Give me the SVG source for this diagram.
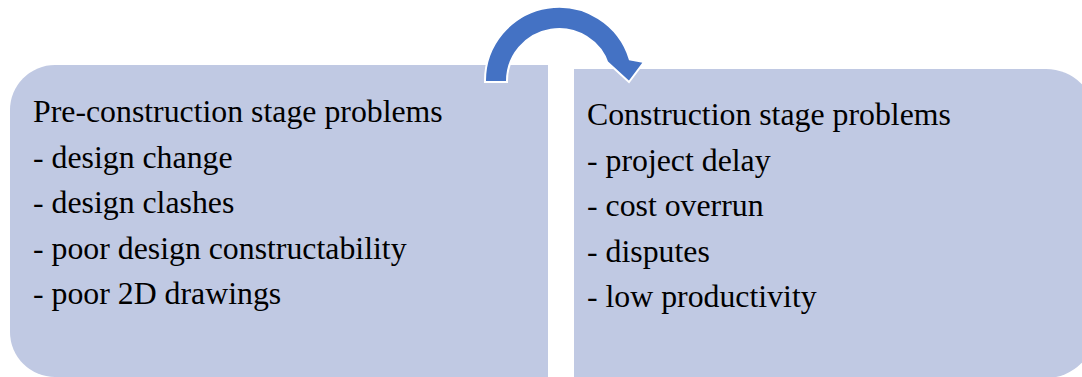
<svg xmlns="http://www.w3.org/2000/svg" width="1082" height="377" viewBox="0 0 1082 377">
<style>
.box{fill:#C0C9E3;}
.t{font-family:"Liberation Serif","Times New Roman",serif;font-size:31.8px;fill:#000;}
.arrow{fill:#4472C4;stroke:#FFFFFF;stroke-width:2;stroke-linejoin:miter;}
</style>
<rect width="1082" height="377" fill="#FFFFFF"/>
<g id="node-pre">
<path class="box" d="M548,65 L548,377 L55,377 A45,45 0 0 1 10,332 L10,110 A45,45 0 0 1 55,65 Z"/>
<text class="t" x="33" y="122">Pre-construction stage problems</text>
<text class="t" x="33" y="167.5">- design change</text>
<text class="t" x="33" y="213">- design clashes</text>
<text class="t" x="33" y="258.5">- poor design constructability</text>
<text class="t" x="33" y="304">- poor 2D drawings</text>
</g>
<g id="node-con">
<path class="box" d="M574,69 L1046,69 A50,50 0 0 1 1096,119 L1096,328 A50,50 0 0 1 1046,378 L574,378 Z"/>
<text class="t" x="587" y="125">Construction stage problems</text>
<text class="t" x="587" y="170.5">- project delay</text>
<text class="t" x="587" y="216">- cost overrun</text>
<text class="t" x="587" y="261.5">- disputes</text>
<text class="t" x="587" y="307">- low productivity</text>
</g>
<g id="connectors">
<path class="arrow" d="M485,82 A74,74 0 0 1 629.8,59.4 L644,62 L629,82 L606,61 L608.7,65.8 A52,52 0 0 0 507,82 Z"/>
</g>
</svg>
